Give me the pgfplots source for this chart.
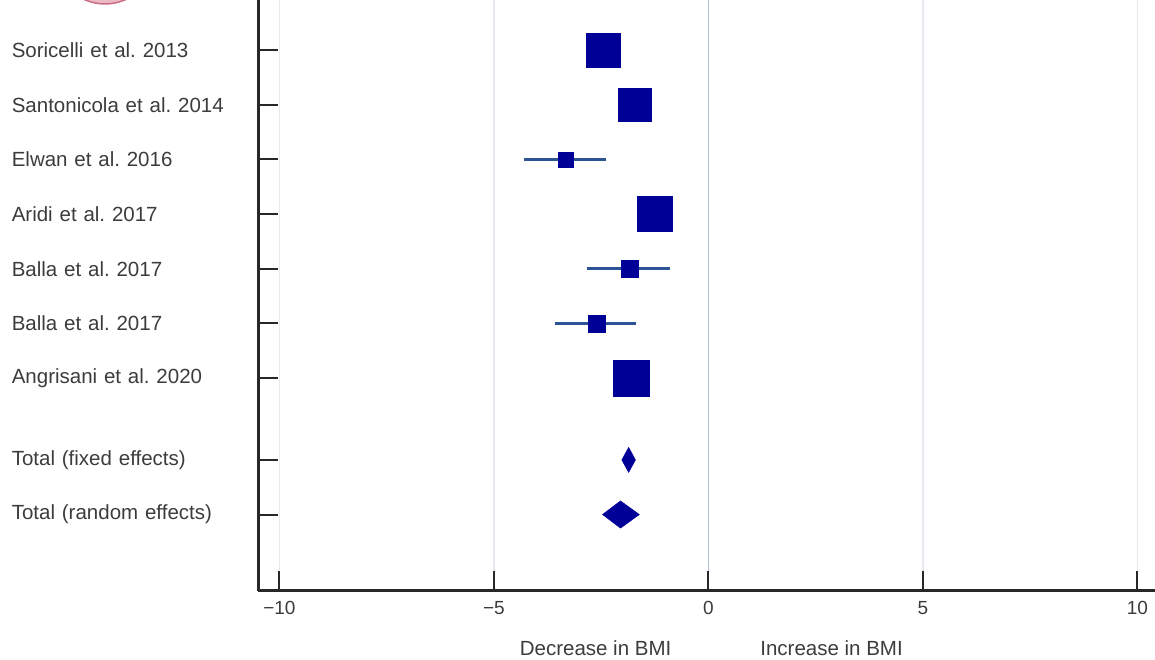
\documentclass[border=0pt]{standalone}
\usepackage{pgfplots}
\pgfplotsset{compat=1.18}
\usepackage{fontspec}
\setmainfont{Liberation Sans}
\frenchspacing
\definecolor{sq}{RGB}{0,0,150}
\definecolor{ci}{RGB}{45,85,150}
\definecolor{zl}{RGB}{175,195,220}
\definecolor{gl}{RGB}{232,234,240}
\definecolor{ax}{RGB}{40,40,40}
\definecolor{tx}{RGB}{60,60,60}
\begin{document}
\begin{tikzpicture}[x=1pt,y=1pt]
\path[use as bounding box] (0,0) rectangle (1155,660);
\fill[fill={rgb,255:red,235;green,185;blue,195}, draw={rgb,255:red,200;green,110;blue,130}, line width=1.5pt] (105,706) circle (50);
\begin{axis}[at={(258pt,69pt)}, anchor=south west, scale only axis,
  width=897pt, height=591pt,
  xmin=-10.5, xmax=10.41, ymin=-10.9, ymax=-0.08,
  axis x line=bottom, axis y line=left,
  axis line style={-, ax, line width=3pt},
  tick align=inside, major tick length=20pt,
  tick style={ax, line width=2pt},
  xtick={-10,-5,5,10}, xticklabels={−10,−5,5,10},
  extra x ticks={0}, extra x tick labels={0},
  xmajorgrids, grid style={gl, line width=1.5pt},
  extra x tick style={grid style={zl, line width=1.5pt}},
  xticklabel style={font=\fontsize{19}{22}\selectfont, text=tx, yshift=-7pt},
  ytick={-9.5,-8.5,-7,-6,-5,-4,-3,-2,-1},
  yticklabels={Total (random effects), Total (fixed effects), Angrisani et al. 2020, Balla et al. 2017, Balla et al. 2017, Aridi et al. 2017, Elwan et al. 2016, Santonicola et al. 2014, Soricelli et al. 2013},
  yticklabel style={font=\fontsize{20.5}{24}\selectfont, text=tx, text width=236pt, align=left, inner sep=0pt, anchor=east, xshift=-10pt},
  clip=false]
% confidence intervals
\addplot[ci, line width=3.5pt] coordinates {(-4.31,-3) (-2.38,-3)};
\addplot[ci, line width=3.5pt] coordinates {(-2.84,-5) (-0.89,-5)};
\addplot[ci, line width=3.5pt] coordinates {(-3.57,-6) (-1.70,-6)};
% study estimates
\addplot[only marks, mark=square*, mark options={fill=sq, draw=sq}, mark size=17pt] coordinates {(-2.45,-1)};
\addplot[only marks, mark=square*, mark options={fill=sq, draw=sq}, mark size=16.5pt] coordinates {(-1.72,-2)};
\addplot[only marks, mark=square*, mark options={fill=sq, draw=sq}, mark size=7.5pt] coordinates {(-3.33,-3)};
\addplot[only marks, mark=square*, mark options={fill=sq, draw=sq}, mark size=17.5pt] coordinates {(-1.26,-4)};
\addplot[only marks, mark=square*, mark options={fill=sq, draw=sq}, mark size=8.5pt] coordinates {(-1.84,-5)};
\addplot[only marks, mark=square*, mark options={fill=sq, draw=sq}, mark size=8.5pt] coordinates {(-2.61,-6)};
\addplot[only marks, mark=square*, mark options={fill=sq, draw=sq}, mark size=18pt] coordinates {(-1.79,-7)};
% pooled estimates
\addplot[fill=sq, draw=sq] coordinates {(-2.02,-8.5) (-1.86,-8.27) (-1.70,-8.5) (-1.86,-8.73)} -- cycle;
\addplot[fill=sq, draw=sq] coordinates {(-2.47,-9.5) (-2.05,-9.25) (-1.61,-9.5) (-2.05,-9.75)} -- cycle;
\node[font=\fontsize{20.5}{24}\selectfont, text=tx] at (axis cs:-2.63,-10.9) [yshift=-57pt] {Decrease in BMI};
\node[font=\fontsize{20.5}{24}\selectfont, text=tx] at (axis cs:2.87,-10.9) [yshift=-57pt] {Increase in BMI};
\end{axis}
\end{tikzpicture}
\end{document}
